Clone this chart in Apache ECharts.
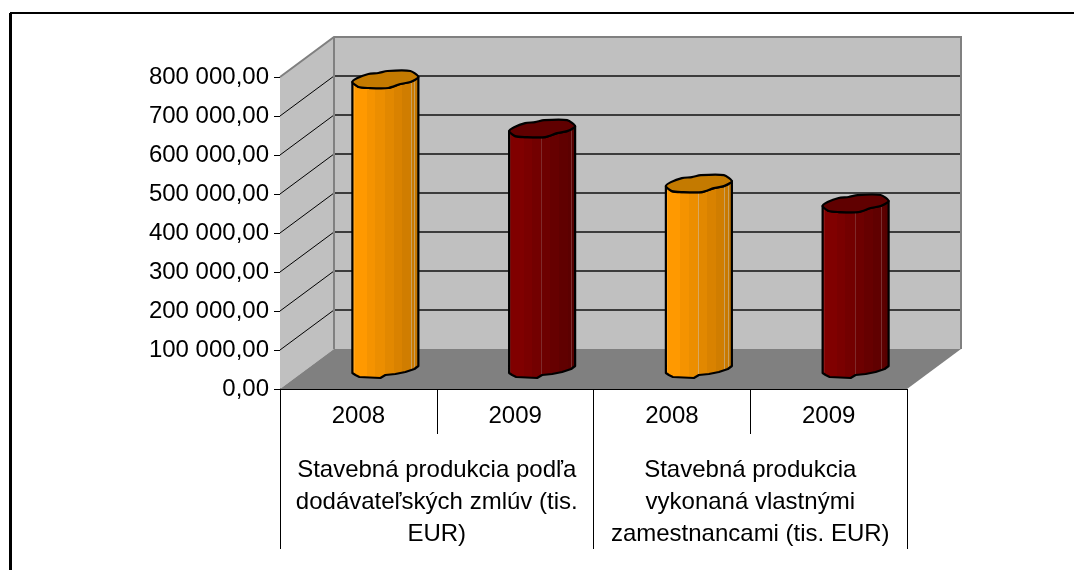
<!DOCTYPE html>
<html>
<head>
<meta charset="utf-8">
<style>
  html, body { margin: 0; padding: 0; background: #fff; }
  #chart { width: 1074px; height: 570px; }
</style>
<script src="https://cdn.jsdelivr.net/npm/echarts@6/dist/echarts.min.js"></script>
</head>
<body>
<div id="chart"></div>
<script>
const years = ['2008', '2009', '2008', '2009'];
const groups = [
  'Stavebná produkcia podľa\ndodávateľských zmlúv (tis.\nEUR)',
  'Stavebná produkcia\nvykonaná vlastnými\nzamestnancami (tis. EUR)'
];
const values = [741000, 615000, 474000, 423000];
const gridTicks = [100000, 200000, 300000, 400000, 500000, 600000, 700000];

// 3d look
const depthX = 54;
const depthY = 40;
const fontName = '"Liberation Sans", Arial, sans-serif';

// wobbly outline of the cylinder, offsets from its centre line
const capOutline = [[-33, 2], [-28, -2], [-17, -6], [-7, -7], [2, -9], [25, -9], [33, -3], [25, 2], [15, 4], [3, 8], [-17, 8], [-27, 7]];
const capFront = [[33, -3], [25, 2], [15, 4], [3, 8], [-17, 8], [-27, 7], [-33, 2]];
const baseFront = [[-33, 4], [-30, 6], [-26, 8], [-5, 9], [0, 6], [10, 5], [20, 3], [29, 0], [33, -3]];

function bands(colors) {
  // hard edged stripes like the old 3d office charts
  const widths = [0.05, 0.18, 0.12, 0.14, 0.01, 0.12, 0.13, 0.125, 0.01, 0.04, 0.01, 0.035, 0.03];
  const stops = [];
  let pos = 0;
  widths.forEach(function (w, i) {
    stops.push({ offset: pos, color: colors[i] });
    pos += w;
    stops.push({ offset: Math.min(pos, 1), color: colors[i] });
  });
  return new echarts.graphic.LinearGradient(0, 0, 1, 0, stops);
}
const orangeBands = ['#ffa51f', '#ff9900', '#f59300', '#ec8e00', '#d9a860', '#e28800', '#d98200', '#d07d00', '#c8a060', '#c97900', '#c8a060', '#c47600', '#bd7200'];
const redBands = ['#8c1414', '#800000', '#7a0000', '#730000', '#7f2a2a', '#6d0000', '#660000', '#600000', '#7a3030', '#5c0000', '#7a3030', '#560000', '#520000'];

function renderWalls(params, api) {
  const cs = params.coordSys;
  const x0 = cs.x;
  const x1 = cs.x + cs.width;
  const y0 = cs.y + cs.height;
  const y1 = cs.y;
  const wallLine = { stroke: '#808080', lineWidth: 2 };
  const children = [
    { type: 'polygon', shape: { points: [[x0, y0], [x0 + depthX, y0 - depthY], [x0 + depthX, y1 - depthY], [x0, y1]] }, style: { fill: '#c0c0c0' } },
    { type: 'polygon', shape: { points: [[x0 + depthX, y0 - depthY], [x1 + depthX, y0 - depthY], [x1 + depthX, y1 - depthY], [x0 + depthX, y1 - depthY]] }, style: { fill: '#c0c0c0' } },
    { type: 'polygon', shape: { points: [[x0, y0], [x1, y0], [x1 + depthX, y0 - depthY], [x0 + depthX, y0 - depthY]] }, style: { fill: '#808080' } }
  ];
  gridTicks.forEach(function (t) {
    const y = api.coord([0, t])[1];
    children.push({ type: 'line', shape: { x1: x0, y1: y, x2: x0 + depthX, y2: y - depthY }, style: { stroke: '#000', lineWidth: 1 } });
    children.push({ type: 'line', shape: { x1: x0 + depthX, y1: y - depthY, x2: x1 + depthX, y2: y - depthY }, style: { stroke: '#111', lineWidth: 1.4 } });
  });
  children.push({ type: 'polyline', shape: { points: [[x0, y1], [x0 + depthX, y1 - depthY], [x1 + depthX, y1 - depthY], [x1 + depthX, y0 - depthY]] }, style: Object.assign({ fill: 'none' }, wallLine) });
  children.push({ type: 'line', shape: { x1: x0 + depthX, y1: y1 - depthY, x2: x0 + depthX, y2: y0 - depthY }, style: wallLine });
  return { type: 'group', children: children };
}

function renderBar(params, api) {
  const i = api.value(0);
  const top = api.coord([i, api.value(1)]);
  const base = api.coord([i, 0]);
  const cx = top[0] + depthX / 2;
  const yTop = top[1] - depthY / 2;
  const yBase = base[1] - depthY / 2;
  const isOrange = i % 2 === 0;
  const place = function (pts, y) {
    return pts.map(function (p) { return [cx + p[0], y + p[1]]; });
  };
  const body = place(capFront, yTop).concat(place(baseFront, yBase));
  return {
    type: 'group',
    children: [
      {
        type: 'polygon',
        shape: { points: body },
        style: { fill: bands(isOrange ? orangeBands : redBands), stroke: '#000', lineWidth: 2.2, lineJoin: 'round' }
      },
      {
        type: 'polygon',
        shape: { points: place(capOutline, yTop), smooth: 0.25 },
        style: { fill: isOrange ? '#c47a00' : '#600000', stroke: '#000', lineWidth: 2.2, lineJoin: 'round' }
      }
    ]
  };
}

const chart = echarts.init(document.getElementById('chart'), null, { renderer: 'canvas' });
chart.setOption({
  animation: false,
  backgroundColor: '#fff',
  textStyle: { fontFamily: fontName },
  grid: { left: 280, width: 627, top: 77, height: 312, containLabel: false },
  xAxis: [
    {
      type: 'category',
      data: years,
      position: 'bottom',
      axisLine: { show: true, lineStyle: { color: '#000', width: 1 } },
      axisTick: { show: true, length: 45, lineStyle: { color: '#000', width: 1 } },
      axisLabel: { interval: 0, margin: 15, fontSize: 24, color: '#000', fontFamily: fontName }
    },
    {
      type: 'category',
      data: groups,
      position: 'bottom',
      axisLine: { show: false },
      axisTick: { show: true, length: 160, lineStyle: { color: '#000', width: 1 } },
      axisLabel: { interval: 0, margin: 65, fontSize: 24, lineHeight: 32, color: '#000', fontFamily: fontName, align: 'center' }
    }
  ],
  yAxis: {
    type: 'value',
    min: 0,
    max: 800000,
    interval: 100000,
    splitLine: { show: false },
    axisLine: { show: true, lineStyle: { color: '#000', width: 1 } },
    axisTick: { show: true, length: 6, lineStyle: { color: '#000', width: 1 } },
    axisLabel: {
      margin: 11,
      fontSize: 24,
      color: '#000',
      fontFamily: fontName,
      formatter: function (v) {
        const s = String(v);
        if (v === 0) return '0,00';
        return s.slice(0, -3) + ' ' + s.slice(-3) + ',00';
      }
    }
  },
  series: [
    { type: 'custom', name: 'steny', xAxisIndex: 0, yAxisIndex: 0, z: 1, silent: true, clip: false, data: [[0, 0]], renderItem: renderWalls },
    {
      type: 'custom',
      name: 'produkcia',
      xAxisIndex: 0,
      yAxisIndex: 0,
      z: 2,
      clip: false,
      encode: { x: 0, y: 1 },
      data: values.map(function (v, i) { return [i, v]; }),
      renderItem: renderBar
    }
  ],
  graphic: [
    // chart frame, only top and left edges stay inside the crop
    { type: 'line', z: 10, shape: { x1: 10, y1: 13, x2: 1074, y2: 13 }, style: { stroke: '#000', lineWidth: 2 } },
    { type: 'line', z: 10, shape: { x1: 10.5, y1: 13, x2: 10.5, y2: 570 }, style: { stroke: '#000', lineWidth: 3 } }
  ]
});
</script>
</body>
</html>
